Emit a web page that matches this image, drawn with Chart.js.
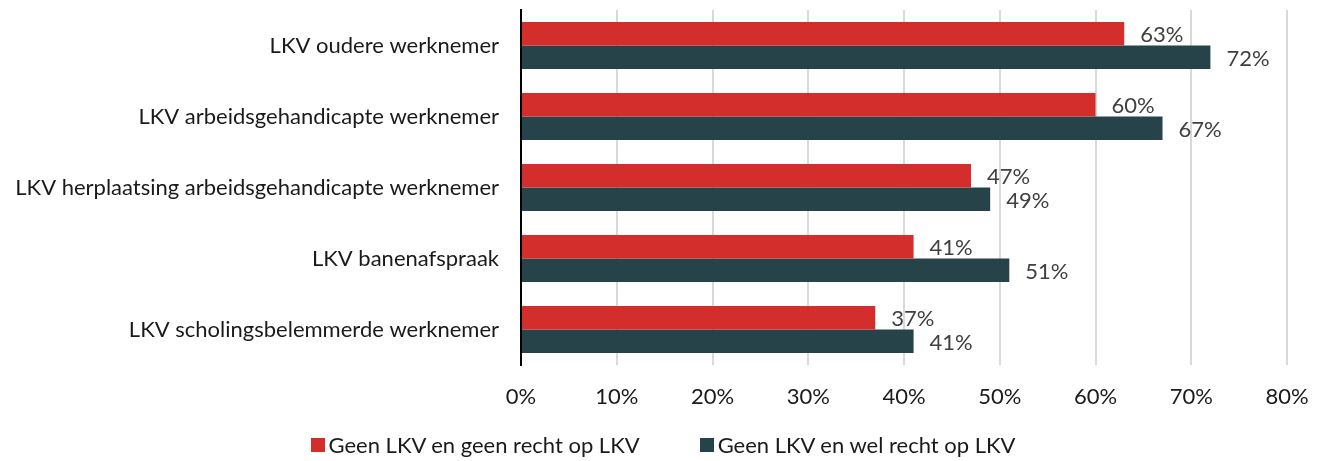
<!DOCTYPE html>
<html>
<head>
<meta charset="utf-8">
<script src="https://cdn.jsdelivr.net/npm/chart.js@4/dist/chart.umd.min.js"></script>
<style>
  html, body { margin: 0; padding: 0; background: #fff; }
  #wrap { width: 1320px; height: 461px; position: relative; }
  #legend {
    position: absolute; left: 0; top: 431px; width: 1320px;
    display: flex; justify-content: center; gap: 54px;
    font: 22px Lato, "Open Sans", sans-serif; color: #1a1a1a;
  }
  .item { display: flex; align-items: center; padding-left: 6px; }
  .box { width: 14px; height: 14px; margin-right: 4px; }
</style>
</head>
<body>
<div id="wrap">
  <canvas id="chart"></canvas>
  <div id="legend"></div>
</div>
<script>
const categories = [
  "LKV oudere werknemer",
  "LKV arbeidsgehandicapte werknemer",
  "LKV herplaatsing arbeidsgehandicapte werknemer",
  "LKV banenafspraak",
  "LKV scholingsbelemmerde werknemer",
];
const seriesNames = ["Geen LKV en geen recht op LKV", "Geen LKV en wel recht op LKV"];
const seriesColors = ["#d32e2b", "#26434a"];
const geenRecht = [63, 60, 47, 41, 37];
const welRecht = [72, 67, 49, 51, 41];
const xTicks = [0, 10, 20, 30, 40, 50, 60, 70, 80];

const fontFamily = "Lato, 'Open Sans', sans-serif";
const fontSize = 22;

// draws the value next to each bar end
const valueLabels = {
  id: "valueLabels",
  afterDatasetsDraw(chart) {
    const ctx = chart.ctx;
    ctx.save();
    ctx.font = `${fontSize}px ${fontFamily}`;
    ctx.fillStyle = "#404040";
    ctx.textBaseline = "middle";
    ctx.textAlign = "left";
    chart.data.datasets.forEach((ds, i) => {
      const meta = chart.getDatasetMeta(i);
      meta.data.forEach((bar, j) => {
        const yOff = i === 0 ? 1 : 2;
        ctx.fillText(`${ds.data[j]}%`, bar.x + 16, bar.y + yOff);
      });
    });
    ctx.restore();
  },
};

new Chart(document.getElementById("chart"), {
  type: "bar",
  data: {
    labels: categories,
    datasets: [
      {
        label: seriesNames[0],
        data: geenRecht,
        backgroundColor: seriesColors[0],
        categoryPercentage: 0.66,
        barPercentage: 1,
      },
      {
        label: seriesNames[1],
        data: welRecht,
        backgroundColor: seriesColors[1],
        categoryPercentage: 0.66,
        barPercentage: 1,
      },
    ],
  },
  options: {
    indexAxis: "y",
    responsive: true,
    maintainAspectRatio: false,
    animation: false,
    layout: { padding: { top: 10, right: 33, left: 0, bottom: 0 } },
    plugins: {
      tooltip: { enabled: false },
      legend: { display: false },
    },
    scales: {
      x: {
        min: 0,
        max: 80,
        afterBuildTicks(scale) {
          scale.ticks = xTicks.map((v) => ({ value: v }));
        },
        afterFit(scale) {
          scale.height = 96;
          scale.paddingLeft = 0;
          scale.paddingRight = 0;
        },
        ticks: {
          color: "#1a1a1a",
          font: { size: fontSize, family: fontFamily },
          padding: 19,
          callback: (v) => `${v}%`,
        },
        grid: {
          color: (c) => (c.tick && c.tick.value === 0 ? "rgba(0,0,0,0)" : "#d9d9d9"),
          lineWidth: 2,
          drawTicks: false,
        },
        border: { display: false },
      },
      y: {
        afterFit(scale) {
          scale.width = 521;
          scale.paddingTop = 0;
          scale.paddingBottom = 0;
        },
        ticks: {
          color: "#1a1a1a",
          font: { size: fontSize, family: fontFamily },
          padding: 22,
        },
        grid: { display: false, drawTicks: false },
        border: { display: true, color: "#000", width: 2 },
      },
    },
  },
  plugins: [valueLabels],
});

const legendEl = document.getElementById("legend");
seriesNames.forEach((name, i) => {
  const item = document.createElement("div");
  item.className = "item";
  const box = document.createElement("span");
  box.className = "box";
  box.style.background = seriesColors[i];
  const text = document.createElement("span");
  text.textContent = name;
  item.appendChild(box);
  item.appendChild(text);
  legendEl.appendChild(item);
});
</script>
</body>
</html>
